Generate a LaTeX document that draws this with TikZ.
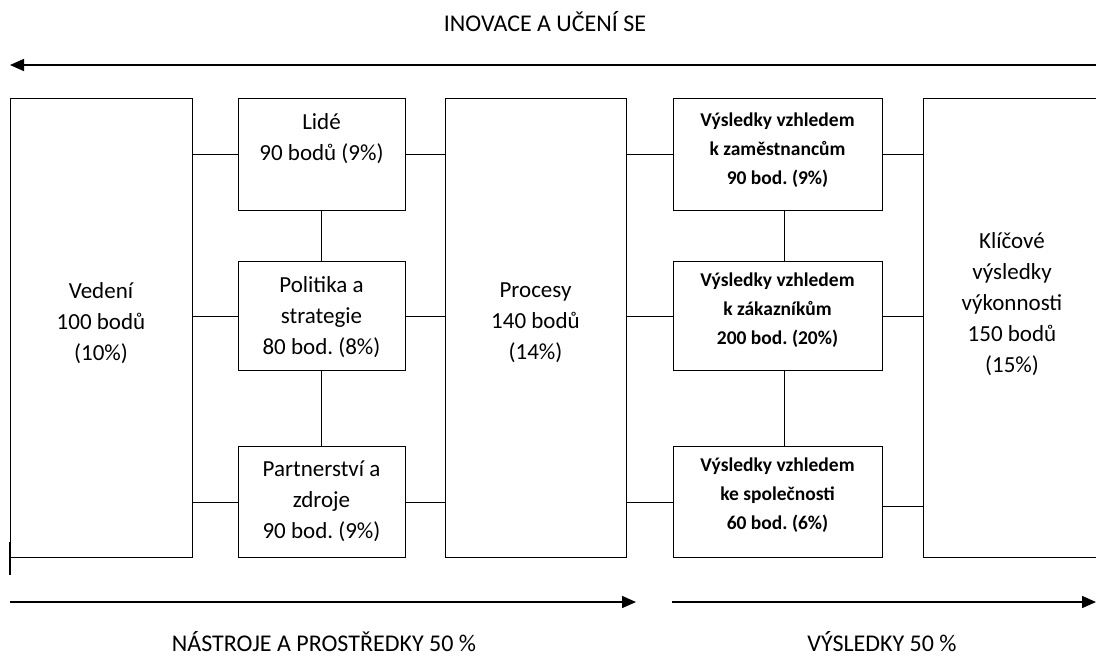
\documentclass[tikz,border=0pt]{standalone}
\usepackage{fontspec}
\setmainfont{Carlito}
\usetikzlibrary{arrows.meta}
\frenchspacing
\begin{document}
\begin{tikzpicture}[x=1pt,y=-1pt,
 box/.style={draw, line width=1.3pt, inner sep=0pt, anchor=north west},
 txt/.style={font=\fontsize{23}{31}\selectfont, align=center, inner sep=0pt},
 stxt/.style={font=\fontsize{19.5}{29}\selectfont\bfseries, align=center, inner sep=0pt},
 conn/.style={line width=1.3pt},
 arr/.style={line width=1.5pt, -{Triangle[length=14pt,width=12pt]}},
 ttl/.style={font=\fontsize{24}{26}\selectfont, inner sep=0pt}]
\useasboundingbox (0,0) rectangle (1096,657);

% boxes
\node[box, minimum width=182pt, minimum height=459pt] (vedeni) at (10,98) {};
\node[box, minimum width=167pt, minimum height=112pt] (lide) at (238,98) {};
\node[box, minimum width=167pt, minimum height=109pt] (polit) at (238,261) {};
\node[box, minimum width=167pt, minimum height=111pt] (partn) at (238,446) {};
\node[box, minimum width=181pt, minimum height=459pt] (proc) at (445,98) {};
\node[box, minimum width=209pt, minimum height=112pt] (zam) at (673,98) {};
\node[box, minimum width=209pt, minimum height=109pt] (zak) at (673,261) {};
\node[box, minimum width=209pt, minimum height=111pt] (spol) at (673,446) {};
\node[box, minimum width=185pt, minimum height=459pt] (klic) at (923,98) {};

% texts
\node[txt] (vedeni-t) at (101,323) {Vedení\\100 bodů\\(10\%)};
\node[txt] (lide-t) at (321.5,139) {Lidé\\90 bodů (9\%)};
\node[txt] (polit-t) at (321.5,317) {Politika a\\strategie\\80 bod. (8\%)};
\node[txt] (partn-t) at (321.5,501) {Partnerství a\\zdroje\\90 bod. (9\%)};
\node[txt] (proc-t) at (535.5,323) {Procesy\\140 bodů\\(14\%)};
\node[stxt] (zam-t) at (777.5,150) {Výsledky vzhledem\\k zaměstnancům\\90 bod. (9\%)};
\node[stxt] (zak-t) at (777.5,310) {Výsledky vzhledem\\k zákazníkům\\200 bod. (20\%)};
\node[stxt] (spol-t) at (777.5,495) {Výsledky vzhledem\\ke společnosti\\60 bod. (6\%)};
\node[txt] (klic-t) at (1012,304) {Klíčové\\výsledky\\výkonnosti\\150 bodů\\(15\%)};

% horizontal connectors
\draw[conn] (lide.west -| vedeni.east) -- (lide.west);
\draw[conn] (polit.west -| vedeni.east) -- (polit.west);
\draw[conn] (partn.west -| vedeni.east) -- (partn.west);
\draw[conn] (lide.east) -- (lide.east -| proc.west);
\draw[conn] (polit.east) -- (polit.east -| proc.west);
\draw[conn] (partn.east) -- (partn.east -| proc.west);
\draw[conn] (zam.west -| proc.east) -- (zam.west);
\draw[conn] (zak.west -| proc.east) -- (zak.west);
\draw[conn] (spol.west -| proc.east) -- (spol.west);
\draw[conn] (zam.east) -- (zam.east -| klic.west);
\draw[conn] (zak.east) -- (zak.east -| klic.west);
\draw[conn] ([yshift=-4pt]spol.east) -- ([yshift=-4pt]spol.east -| klic.west);

% vertical connectors
\draw[conn] ([xshift=-1pt]lide.south) -- ([xshift=-1pt]polit.north);
\draw[conn] ([xshift=-1pt]polit.south) -- ([xshift=-1pt]partn.north);
\draw[conn] ([xshift=6pt]zam.south) -- ([xshift=6pt]zak.north);
\draw[conn] ([xshift=6pt]zak.south) -- ([xshift=6pt]spol.north);

% small tick
\coordinate (tick-a) at (10,542);
\coordinate (tick-b) at (10,575);
\draw[line width=1.2pt] (tick-a) -- (tick-b);

% arrows
\coordinate (top-s) at (1096,65);
\coordinate (top-e) at (10,65);
\draw[arr] (top-s) -- (top-e);
\coordinate (bl-s) at (10,602);
\coordinate (bl-e) at (636,602);
\draw[arr] (bl-s) -- (bl-e);
\coordinate (br-s) at (672,602);
\coordinate (br-e) at (1096,602);
\draw[arr] (br-s) -- (br-e);

% titles
\node[ttl] (top-t) at (545,22) {INOVACE A UČENÍ SE};
\node[ttl] (bl-t) at (324,642) {NÁSTROJE A PROSTŘEDKY 50 \%};
\node[ttl] (br-t) at (882,642) {VÝSLEDKY 50 \%};
\end{tikzpicture}
\end{document}
